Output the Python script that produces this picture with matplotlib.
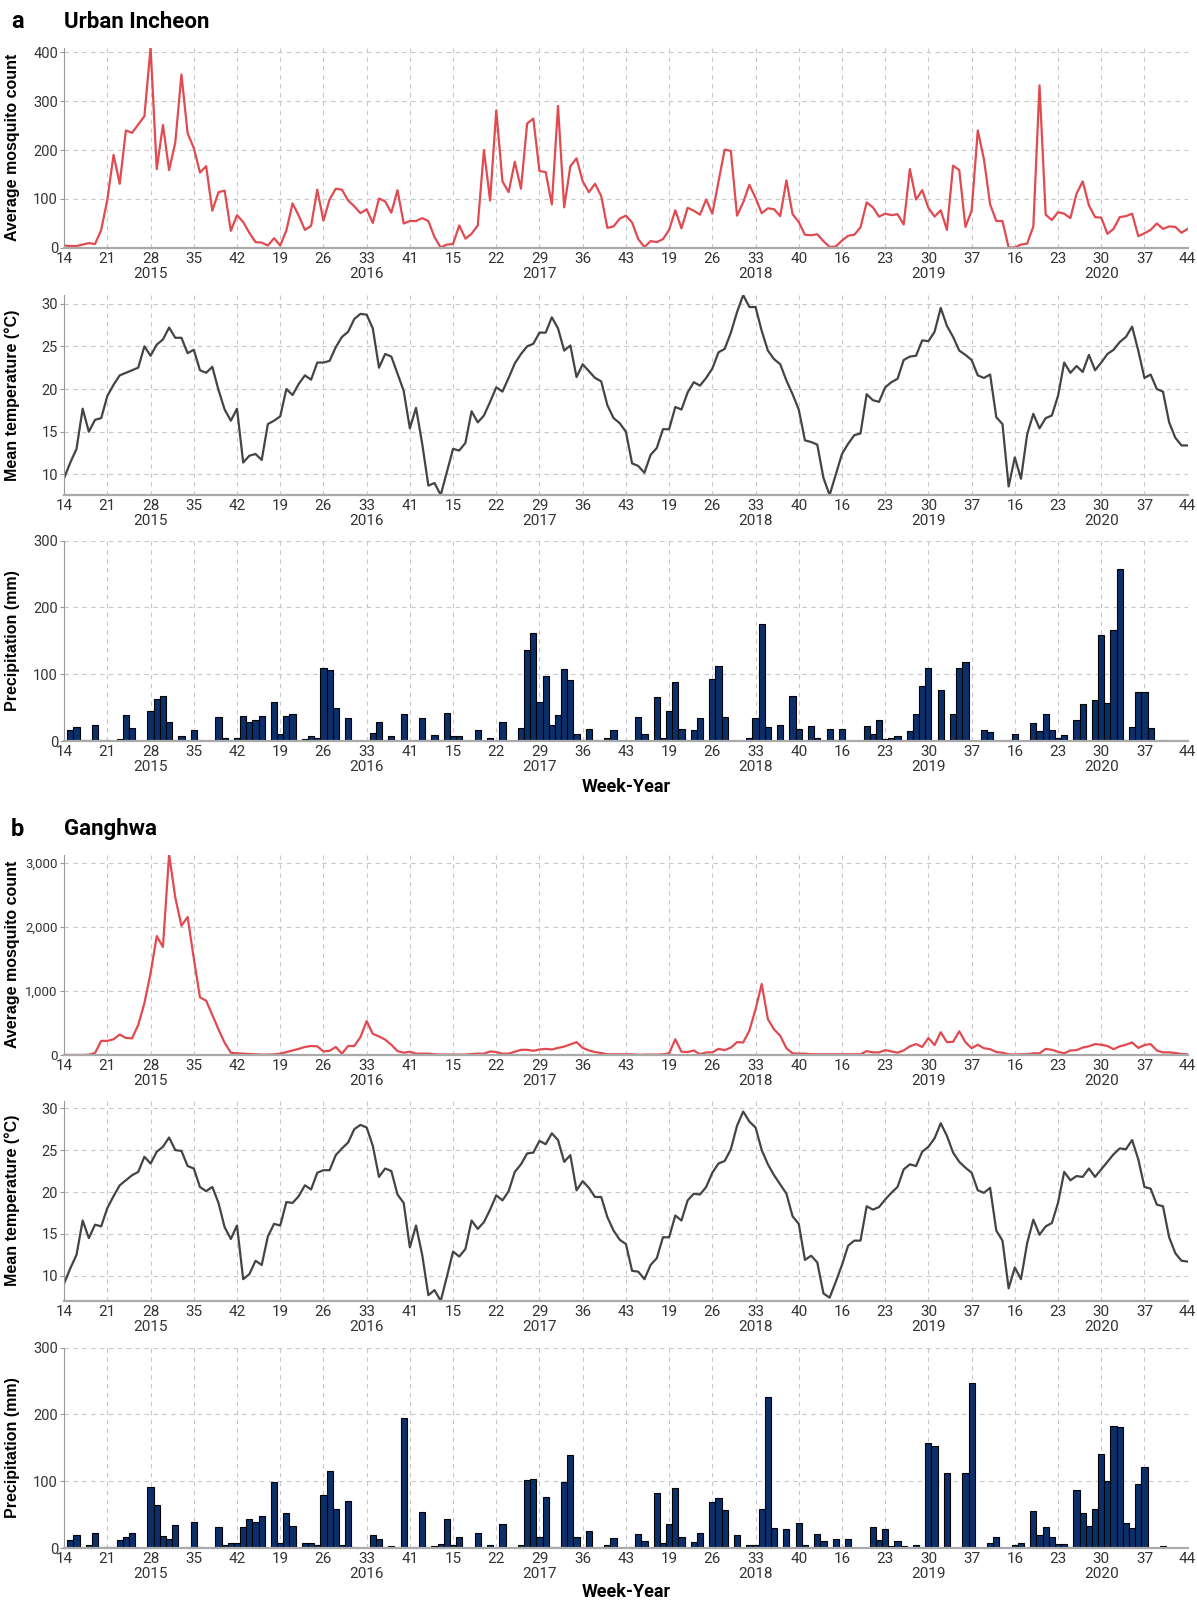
import numpy as np
import matplotlib.pyplot as plt
from matplotlib.ticker import FuncFormatter

# week labels shown every 7th sample, with the season year under some of them
tick_weeks = [14, 21, 28, 35, 42, 19, 26, 33, 41, 15, 22, 29, 36, 43,
              19, 26, 33, 40, 16, 23, 30, 37, 16, 23, 30, 37, 44]
tick_years = ['', '', '2015', '', '', '', '', '2016', '', '', '', '2017', '', '',
              '', '', '2018', '', '', '', '2019', '', '', '', '2020', '', '']

# Urban Incheon
inc_mosq = [5, 4, 4, 7, 10, 8, 37, 99, 190, 131,
            240, 235, 252, 269, 409, 161, 251, 159, 215, 354,
            234, 204, 154, 167, 76, 114, 117, 35, 67, 53,
            31, 12, 11, 5, 20, 5, 36, 91, 66, 37,
            45, 119, 56, 99, 121, 119, 97, 85, 71, 79,
            51, 101, 95, 72, 118, 50, 55, 55, 61, 55,
            22, 1, 7, 8, 46, 19, 29, 46, 200, 97,
            281, 136, 114, 176, 121, 254, 264, 157, 155, 89,
            290, 83, 167, 183, 136, 114, 131, 106, 41, 44,
            60, 66, 52, 18, 2, 14, 12, 18, 37, 77,
            40, 82, 76, 68, 99, 70, 136, 201, 198, 66,
            93, 129, 102, 71, 81, 79, 65, 138, 69, 53,
            27, 26, 28, 14, 2, 3, 15, 25, 27, 42,
            93, 83, 64, 70, 67, 69, 48, 161, 99, 118,
            82, 64, 77, 37, 168, 159, 43, 76, 240, 181,
            89, 55, 55, 1, 1, 7, 9, 44, 332, 68,
            57, 73, 70, 61, 111, 136, 87, 63, 62, 29,
            39, 63, 65, 70, 24, 30, 37, 50, 39, 44,
            43, 31, 39]
inc_temp = [9.6, 11.4, 13.0, 17.7, 15.0, 16.4, 16.6, 19.2, 20.5, 21.6,
            21.9, 22.2, 22.5, 25.0, 23.9, 25.2, 25.8, 27.2, 26.0, 26.0,
            24.2, 24.6, 22.2, 21.9, 22.6, 19.9, 17.6, 16.3, 17.7, 11.4,
            12.2, 12.4, 11.7, 15.9, 16.3, 16.8, 20.0, 19.3, 20.6, 21.6,
            21.1, 23.1, 23.1, 23.3, 24.9, 26.1, 26.7, 28.2, 28.8, 28.7,
            27.1, 22.5, 24.1, 23.8, 21.8, 19.8, 15.4, 17.8, 13.6, 8.7,
            9.0, 7.6, 10.3, 13.0, 12.8, 13.7, 17.4, 16.1, 16.9, 18.5,
            20.2, 19.7, 21.3, 23.0, 24.1, 25.0, 25.3, 26.6, 26.6, 28.4,
            27.1, 24.5, 25.1, 21.4, 22.9, 22.1, 21.3, 20.9, 18.1, 16.6,
            16.0, 15.0, 11.3, 11.0, 10.2, 12.3, 13.1, 15.3, 15.3, 17.9,
            17.6, 19.6, 20.8, 20.4, 21.3, 22.4, 24.3, 24.7, 26.6, 29.0,
            31.0, 29.6, 29.6, 26.8, 24.5, 23.5, 22.9, 21.0, 19.4, 17.6,
            14.0, 13.8, 13.5, 9.6, 7.6, 10.0, 12.4, 13.6, 14.6, 14.8,
            19.4, 18.7, 18.5, 20.2, 20.8, 21.2, 23.4, 23.8, 23.9, 25.7,
            25.6, 26.7, 29.5, 27.4, 26.1, 24.5, 24.0, 23.4, 21.6, 21.3,
            21.7, 16.7, 15.9, 8.6, 12.0, 9.5, 14.7, 17.1, 15.4, 16.6,
            16.9, 19.2, 23.1, 21.9, 22.7, 22.0, 24.0, 22.2, 23.1, 24.1,
            24.6, 25.5, 26.1, 27.3, 24.5, 21.3, 21.7, 20.0, 19.7, 16.1,
            14.3, 13.4, 13.4]
inc_prec = [0, 17, 21, 1, 1, 24, 1, 1, 0, 3,
            39, 19, 0, 0, 45, 63, 67, 29, 2, 7,
            0.5, 16, 1, 0, 0, 36, 4, 2, 5, 37,
            29, 31, 38, 0, 59, 10, 38, 40, 0, 3,
            7, 4, 109, 107, 50, 0.5, 35, 0, 0, 0,
            12, 29, 1, 8, 0, 41, 0, 1, 35, 1,
            9, 1, 42, 7, 7, 0, 0, 17, 0, 4,
            0.5, 29, 0, 0, 19, 136, 162, 58, 98, 24,
            39, 108, 91, 11, 1, 18, 1, 0, 4, 16,
            0, 0, 0.5, 36, 10, 0, 66, 4, 45, 88,
            18, 1, 16, 34, 0, 93, 112, 36, 0, 0,
            0, 4, 34, 176, 21, 0, 24, 0, 68, 18,
            0, 22, 5, 0, 18, 2, 18, 0, 0, 0,
            22, 10, 32, 3, 5, 7, 0, 15, 41, 82,
            109, 0, 76, 0.5, 41, 110, 119, 0, 0, 17,
            14, 0, 0, 2, 11, 0, 0, 27, 15, 40,
            17, 4, 9, 0, 32, 56, 0.5, 62, 159, 57,
            167, 258, 1, 21, 74, 74, 19, 0, 1, 0,
            0, 0, 0]

# Ganghwa
gh_mosq = [0, 0, 0, 0, 5, 30, 220, 220, 245, 320,
           265, 260, 470, 810, 1280, 1860, 1690, 3136, 2465, 2020,
           2160, 1510, 900, 850, 625, 400, 190, 35, 25, 20,
           15, 10, 5, 5, 10, 20, 45, 70, 95, 125,
           140, 135, 55, 65, 125, 20, 140, 140, 280, 530,
           330, 290, 240, 160, 60, 35, 50, 20, 20, 20,
           10, 5, 5, 5, 5, 5, 15, 20, 20, 55,
           45, 20, 20, 50, 80, 80, 65, 85, 95, 85,
           110, 130, 165, 200, 110, 70, 45, 30, 10, 10,
           10, 10, 10, 0, 5, 5, 5, 10, 25, 245,
           50, 45, 70, 10, 40, 40, 95, 75, 115, 200,
           195, 380, 715, 1110, 560, 400, 300, 105, 25, 20,
           20, 10, 10, 10, 10, 10, 10, 10, 10, 10,
           60, 40, 40, 75, 55, 35, 70, 135, 170, 125,
           265, 155, 355, 200, 205, 370, 200, 105, 160, 105,
           90, 45, 35, 10, 5, 10, 10, 25, 25, 95,
           80, 50, 25, 70, 75, 115, 135, 170, 160, 140,
           90, 135, 160, 195, 110, 155, 170, 70, 40, 40,
           30, 15, 10]
gh_temp = [9.1, 10.9, 12.5, 16.6, 14.5, 16.1, 15.9, 18.1, 19.5, 20.8,
           21.4, 22.0, 22.4, 24.2, 23.4, 24.8, 25.4, 26.5, 25.0, 24.9,
           23.1, 22.8, 20.6, 20.1, 20.6, 18.7, 15.8, 14.4, 16.0, 9.6,
           10.2, 11.8, 11.3, 14.7, 16.2, 16.0, 18.8, 18.7, 19.5, 20.8,
           20.3, 22.3, 22.6, 22.6, 24.4, 25.2, 25.9, 27.5, 28.0, 27.7,
           25.5, 21.8, 22.8, 22.5, 19.7, 18.7, 13.4, 16.0, 12.5, 7.7,
           8.3, 7.0, 9.9, 12.9, 12.3, 13.2, 16.6, 15.6, 16.4, 17.9,
           19.6, 19.0, 20.1, 22.4, 23.3, 24.6, 24.7, 26.1, 25.7, 27.0,
           26.2, 23.6, 24.4, 20.2, 21.3, 20.5, 19.4, 19.4, 17.0, 15.4,
           14.3, 13.8, 10.6, 10.5, 9.6, 11.3, 12.1, 14.6, 14.6, 17.2,
           16.6, 19.0, 19.8, 19.7, 20.6, 22.3, 23.4, 23.7, 25.1, 27.9,
           29.6, 28.4, 27.7, 25.0, 23.3, 22.0, 20.9, 19.8, 17.1, 16.2,
           11.9, 12.4, 11.6, 7.9, 7.4, 9.3, 11.3, 13.6, 14.2, 14.2,
           18.3, 17.9, 18.2, 19.1, 19.9, 20.6, 22.7, 23.3, 23.1, 24.8,
           25.4, 26.4, 28.2, 26.7, 24.7, 23.6, 22.9, 22.3, 20.2, 19.9,
           20.5, 15.4, 14.2, 8.5, 11.0, 9.6, 13.9, 16.7, 14.9, 15.9,
           16.3, 18.7, 22.4, 21.4, 21.9, 21.8, 22.8, 21.8, 22.7, 23.6,
           24.5, 25.2, 25.1, 26.2, 23.9, 20.6, 20.4, 18.5, 18.3, 14.6,
           12.7, 11.8, 11.7]
gh_prec = [0, 12, 20, 0, 4, 22, 1, 1, 2, 12,
           17, 23, 0, 0, 91, 64, 18, 14, 35, 0,
           2, 39, 1, 0, 0, 32, 5, 7, 8, 32,
           44, 39, 48, 0, 99, 8, 53, 33, 0, 8,
           8, 4, 79, 115, 58, 5, 71, 1, 0, 0.5,
           19, 14, 0, 3, 0, 194, 0, 2, 54, 1,
           3, 6, 43, 5, 17, 0, 0, 22, 0, 4,
           0.5, 36, 0.5, 0, 5, 102, 104, 17, 76, 1,
           2, 99, 139, 16, 0, 25, 0, 0, 5, 15,
           0, 0, 1, 21, 10, 0, 82, 7, 36, 90,
           16, 0.5, 9, 22, 0, 69, 75, 57, 0, 19,
           0, 4, 5, 58, 226, 30, 0, 28, 0, 38,
           4, 0, 21, 10, 0, 13, 1, 14, 0, 0.5,
           0.5, 31, 12, 28, 3, 10, 3, 0, 5, 2,
           157, 153, 0, 113, 0, 0.5, 113, 247, 0, 0,
           7, 16, 0, 0, 4, 7, 0, 56, 19, 32,
           17, 6, 6, 2, 87, 53, 33, 58, 141, 101,
           182, 181, 38, 30, 96, 122, 0.5, 0, 3, 0,
           0, 0, 0.5]

RED = '#e04a50'
GREY_LINE = '#444444'
NAVY = '#0b2f6b'
TICKFONT = 'Roboto'
LABFONT = 'Liberation Sans'

fig = plt.figure(figsize=(11.97, 16.03), dpi=100)

L, W = 0.0536, 0.9386
x = np.arange(len(inc_mosq))
xt = np.arange(0, len(x), 7)
xtl = [f'{w}\n{y}' if y else f'{w}' for w, y in zip(tick_weeks, tick_years)]


def style(ax, ylabel, ysize=10.5):
    ax.set_xlim(0, len(x) - 1)
    ax.set_xticks(xt)
    ax.set_xticklabels(xtl, fontfamily=TICKFONT, fontsize=11, color='#333333',
                       linespacing=1.05)
    for lab in ax.get_yticklabels():
        lab.set_fontfamily(TICKFONT)
    ax.tick_params(axis='y', labelsize=ysize, labelcolor='#333333', length=3,
                   color='#999999', pad=1.5)
    ax.tick_params(axis='x', length=0, pad=3)
    ax.grid(True, color='#c8c8c8', linestyle=(0, (4, 4)), linewidth=0.8)
    ax.set_axisbelow(True)
    for s in ['top', 'right']:
        ax.spines[s].set_visible(False)
    ax.spines['left'].set_color('#999999')
    ax.spines['left'].set_linewidth(0.8)
    ax.spines['bottom'].set_color('#aaaaaa')
    ax.spines['bottom'].set_linewidth(1.6)
    ax.set_ylabel(ylabel, fontfamily=LABFONT, fontweight='bold', fontsize=11.5)
    ax.yaxis.set_label_coords(-0.039, 0.5)


def site(bottoms, letter, name, title_y, mosq, temp, prec, mticks, tlim, xlab_y,
         msize):
    ax1 = fig.add_axes([L, bottoms[0], W, 0.1250])
    ax1.plot(x, mosq, color=RED, lw=1.6)
    ax1.set_ylim(0, max(mosq))
    ax1.set_yticks(mticks)
    ax1.yaxis.set_major_formatter(FuncFormatter(lambda v, p: f'{v:,.0f}'))
    style(ax1, 'Average mosquito count', msize)

    ax2 = fig.add_axes([L, bottoms[1], W, 0.1250])
    ax2.plot(x, temp, color=GREY_LINE, lw=1.6)
    ax2.set_ylim(*tlim)
    ax2.set_yticks([10, 15, 20, 25, 30])
    style(ax2, 'Mean temperature (°C)')

    ax3 = fig.add_axes([L, bottoms[2], W, 0.1250])
    ax3.bar(x, prec, width=1.0, color=NAVY, edgecolor='black', linewidth=0.8)
    ax3.set_ylim(0, 300)
    ax3.set_yticks([0, 100, 200, 300])
    style(ax3, 'Precipitation (mm)')

    fig.text(0.009, title_y, letter, fontfamily='Roboto', fontweight='bold',
             fontsize=17, va='center')
    fig.text(L, title_y, name, fontfamily='Roboto', fontweight='bold',
             fontsize=16, va='center')
    fig.text(L + W / 2, xlab_y, 'Week-Year', fontfamily='Roboto',
             fontweight='bold', fontsize=13, ha='center', va='center')


site([0.8453, 0.6912, 0.5377], 'a', 'Urban Incheon', 1 - 22 / 1603,
     inc_mosq, inc_temp, inc_prec, [0, 100, 200, 300, 400],
     (min(inc_temp), 31.05), 1 - 787 / 1603, 10.5)
site([0.3419, 0.1884, 0.0343], 'b', 'Ganghwa', 1 - 829 / 1603,
     gh_mosq, gh_temp, gh_prec, [0, 1000, 2000, 3000],
     (min(gh_temp), 30.9), 1 - 1592 / 1603, 9.5)

fig.savefig('out.png', dpi=100)
